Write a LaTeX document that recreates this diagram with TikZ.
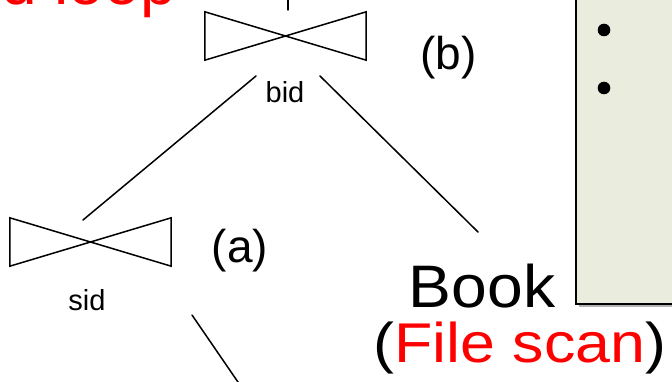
\documentclass[tikz,border=0pt]{standalone}
\usepackage{fontspec}
\setmainfont{Liberation Sans}
\definecolor{notefill}{HTML}{EAEDDE}
\definecolor{planred}{HTML}{FF0000}
\newcommand{\fsz}[1]{\fontsize{#1}{#1}\selectfont}
\begin{document}
\begin{tikzpicture}[x=1pt,y=-1pt,
  joinbox/.style={minimum width=161pt, minimum height=48pt, inner sep=0pt, draw=none},
  edge/.style={line width=1.5pt, line cap=round},
  lbl/.style={inner sep=0pt, anchor=base},
  attr/.style={lbl, font=\fsz{29}},
  tag/.style={lbl, font=\fsz{46}},
  big/.style={lbl, font=\fsz{60}}]
\useasboundingbox (0,0) rectangle (672,382);

% note panel on the right
\fill[black!30] (579,303) rectangle (690,307);
\draw[line width=1.5pt, fill=notefill] (576,-10) rectangle (690,304);
\fill (604,30) circle (6.3);
\fill (604,88) circle (6.3);

% operator caption, partly off the top edge
\node[big, anchor=base east, text=planred, font=\fsz{64}] (title) at (176,5) {d loop};

% join operators drawn as bowties
\node[joinbox] (jb) at (285.5,36) {};
\draw[edge, line cap=butt, line join=miter] (jb.north west) -- (jb.south east) -- (jb.north east) -- (jb.south west) -- cycle;
\node[joinbox] (ja) at (90.5,242) {};
\draw[edge, line cap=butt, line join=miter] (ja.north west) -- (ja.south east) -- (ja.north east) -- (ja.south west) -- cycle;

% join attributes and step labels
\node[attr] (bid) at (285,103) {bid};
\node[attr] (sid) at (87,310) {sid};
\node[tag] (tb) at (448.5,70) {(b)};
\node[tag] (ta) at (240,262) {(a)};

% base relation and its access method
\node[big] (book) at (482,307) {\scalebox{1.07}[1]{Book}};
\node[big, font=\fsz{56}] (scan) at (520,362) {\scalebox{1.12}[1]{(\textcolor{planred}{File scan})}};

% connector end points
\coordinate (up) at (288,-2);
\coordinate (bl) at (256,76);
\coordinate (br) at (320,76);
\coordinate (al) at (83,220);
\coordinate (bk) at (478,232);
\coordinate (ar) at (192,315);
\coordinate (dn) at (240,385);

\draw[edge] (up) -- (288,10);
\draw[edge] (bl) -- (al);
\draw[edge] (br) -- (bk);
\draw[edge] (ar) -- (dn);
\end{tikzpicture}
\end{document}
